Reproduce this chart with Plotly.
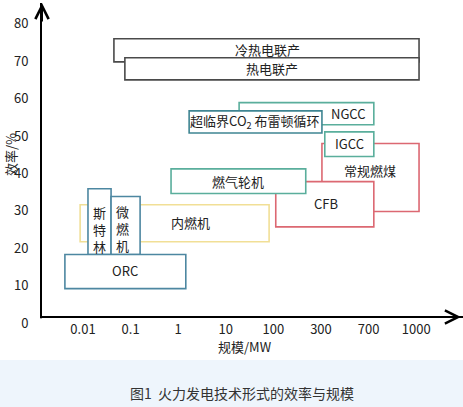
import plotly.graph_objects as go

# ---- data ----
x_tick_labels = ["0.01", "0.1", "1", "10", "100", "300", "700", "1000"]
y_ticks = [0, 10, 20, 30, 40, 50, 60, 70, 80]

# technologies (drawn in this order, later ones on top)
tech_names = ["冷热电联产", "热电联产", "NGCC", "超临界CO<sub>2</sub> 布雷顿循环", "常规燃煤", "IGCC",
              "CFB", "燃气轮机", "内燃机", "斯<br>特<br>林", "微<br>燃<br>机", "ORC"]
# scale extent, in tick-index units (0 = 0.01 MW ... 7 = 1000 MW)
scale_lo = [0.65, 0.88, 3.28, 2.23, 5.02, 5.08, 4.05, 1.85, -0.06, 0.105, 0.59, -0.38]
scale_hi = [7.06, 7.06, 6.11, 5.02, 7.06, 6.11, 6.11, 4.68, 3.91, 0.59, 1.20, 2.16]
# efficiency extent, %
eff_lo = [69.8, 65.0, 53.0, 50.8, 29.8, 44.5, 25.7, 34.6, 21.7, 18.3, 18.3, 9.2]
eff_hi = [76.0, 70.9, 58.9, 56.7, 48.0, 51.1, 37.8, 41.2, 31.6, 35.9, 33.8, 18.3]
# where each label sits
label_x = [3.87, 3.97, 5.57, 3.61, 6.03, 5.59, 5.10, 3.26, 2.25, 0.34, 0.82, 0.88]
label_y = [73.2, 68.0, 55.9, 53.8, 40.7, 48.1, 31.9, 37.8, 26.8, 24.9, 25.2, 14.0]

# ---- styles ----
GRAY = "#4a4a4a"
TEAL = "#5aae9c"
DTEAL = "#3f8592"
RED = "#dc6872"
YEL = "#f1df96"
BLUE = "#4d87a1"
box_colors = [GRAY, GRAY, TEAL, DTEAL, RED, TEAL, RED, TEAL, YEL, BLUE, BLUE, BLUE]

FONT = "Noto Sans CJK SC"
W, H = 463, 407
L, B, T = 42, 84, 3
plot_w, plot_h = W - L, H - B - T
y_top = plot_h / 3.741
x_lo = -0.861
x_hi = x_lo + plot_w / 47.6


def px_x(p):
    return (p - L) / plot_w


def px_y(p):
    return (plot_h + T - p) / plot_h


fig = go.Figure()
fig.add_trace(go.Scatter(x=[None], y=[None], mode="markers", showlegend=False, hoverinfo="skip"))

shapes = []
# caption band
shapes.append(dict(type="rect", xref="paper", yref="paper",
                   x0=px_x(0), x1=1.0, y0=px_y(H), y1=px_y(360),
                   fillcolor="#eef5fc", line=dict(width=0), layer="below"))
for i in range(len(tech_names)):
    shapes.append(dict(type="rect", xref="x", yref="y",
                       x0=scale_lo[i], x1=scale_hi[i], y0=eff_lo[i], y1=eff_hi[i],
                       fillcolor="white", line=dict(color=box_colors[i], width=1.6), layer="above"))
# hide the short stub of the y axis line below the x axis
shapes.append(dict(type="rect", xref="paper", yref="paper",
                   x0=px_x(38), x1=px_x(46), y0=px_y(324), y1=px_y(318.3),
                   fillcolor="white", line=dict(width=0), layer="above"))

annotations = []
for i in range(len(tech_names)):
    annotations.append(dict(x=label_x[i], y=label_y[i], xref="x", yref="y", text=tech_names[i],
                            showarrow=False, font=dict(family=FONT, size=13, color="#222222")))

# arrow heads on the axis ends
annotations.append(dict(x=px_x(42), y=px_y(3), xref="paper", yref="paper", ax=0, ay=20, text="",
                        showarrow=True, arrowhead=5, arrowsize=1.3, arrowwidth=2, arrowcolor="black"))
annotations.append(dict(x=px_x(461), y=px_y(317), xref="paper", yref="paper", ax=-20, ay=0, text="",
                        showarrow=True, arrowhead=5, arrowsize=1.3, arrowwidth=2, arrowcolor="black"))
# axis titles
annotations.append(dict(x=px_x(245), y=px_y(346), xref="paper", yref="paper",
                        xanchor="center", yanchor="middle",
                        text="规模/MW", showarrow=False, font=dict(family=FONT, size=13, color="#222222")))
annotations.append(dict(x=px_x(10), y=px_y(155), xref="paper", yref="paper",
                        xanchor="center", yanchor="middle",
                        text="效率/%", textangle=-90, showarrow=False,
                        font=dict(family=FONT, size=13, color="#222222")))
# caption
annotations.append(dict(x=px_x(242), y=px_y(393), xref="paper", yref="paper",
                        xanchor="center", yanchor="middle",
                        text="图1  火力发电技术形式的效率与规模", showarrow=False,
                        font=dict(family=FONT, size=14, color="#333333")))

fig.update_layout(
    width=W, height=H,
    margin=dict(l=L, r=0, t=T, b=B),
    paper_bgcolor="white", plot_bgcolor="white",
    shapes=shapes, annotations=annotations,
    showlegend=False,
    xaxis=dict(range=[x_lo, x_hi], tickvals=list(range(len(x_tick_labels))), ticktext=x_tick_labels,
               showgrid=False, zeroline=False, showline=True, linecolor="black", linewidth=2,
               anchor="free", position=px_y(317), ticks="",
               tickfont=dict(family=FONT, size=13, color="#222222")),
    yaxis=dict(range=[0, y_top], tickvals=y_ticks, showgrid=False, zeroline=False,
               showline=True, linecolor="black", linewidth=2,
               ticks="", ticklabelstandoff=9,
               tickfont=dict(family=FONT, size=13, color="#222222")),
)
fig.write_html("out.html")
